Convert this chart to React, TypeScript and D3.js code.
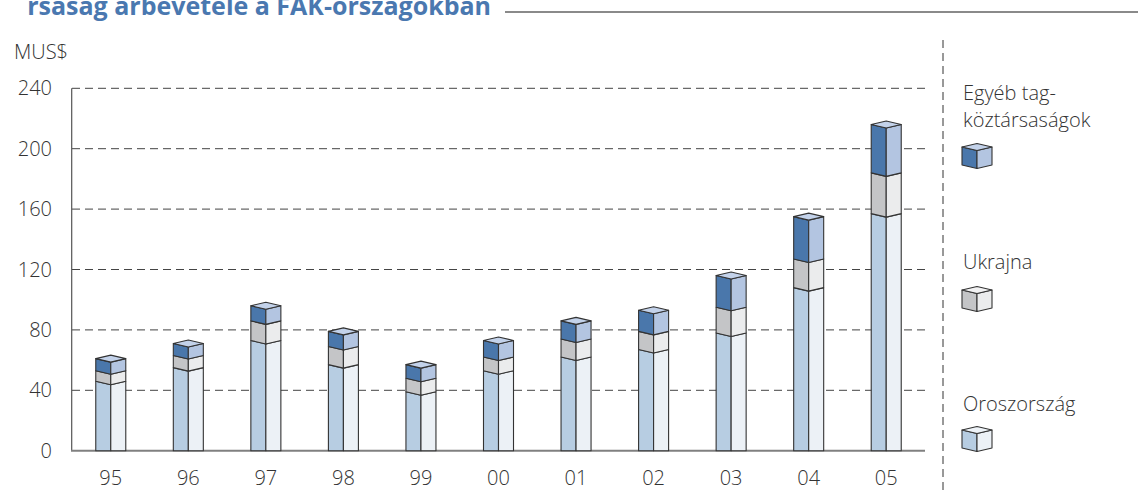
import * as d3 from "d3";

// years and stacked values (MUS$)
const years = ["95", "96", "97", "98", "99", "00", "01", "02", "03", "04", "05"];
const russia = [46, 55, 73, 57, 39, 53, 62, 67, 78, 108, 157];
const ukraine = [7, 8, 13, 12, 9, 9, 12, 12, 17, 19, 27];
const other = [8, 8, 10, 10, 9, 11, 12, 14, 21, 28, 32];
const yTicks = [0, 40, 80, 120, 160, 200, 240];

const seriesKeys = ["russia", "ukraine", "other"];
const faceColors: Record<string, [string, string, string]> = {
  // left face, right face, top
  russia: ["#b7cde2", "#ecf1f6", "#eef3f8"],
  ukraine: ["#c4c5c7", "#ebeced", "#f2f2f3"],
  other: ["#4a77ab", "#b3c5e1", "#c3d2ea"],
};

const W = 1138;
const H = 490;
const font = "'Open Sans', 'Noto Sans', sans-serif";
const D = 3.5; // depth of the chevron

const rows = years.map((yr, i) => ({
  year: yr,
  russia: russia[i],
  ukraine: ukraine[i],
  other: other[i],
}));

const x = d3
  .scaleBand<string>()
  .domain(years)
  .range([72, 925])
  .paddingInner(0.613)
  .paddingOuter(0.3065);

const y = d3.scaleLinear().domain([0, 240]).range([450.7, 88.3]);

const stacked = d3.stack<any>().keys(seriesKeys)(rows);

const pts = (p: number[][]) => p.map((q) => q.join(",")).join(" ");

function Prism({
  xl,
  w,
  top,
  bottom,
  colors,
  flatBottom,
  showTop,
}: {
  xl: number;
  w: number;
  top: number;
  bottom: number;
  colors: [string, string, string];
  flatBottom: boolean;
  showTop: boolean;
}) {
  const xc = xl + w / 2;
  const xr = xl + w;
  const bc = flatBottom ? bottom : bottom + D;
  return (
    <g stroke="#333" strokeWidth={1.1} strokeLinejoin="round">
      <polygon
        points={pts([[xl, top], [xc, top + D], [xc, bc], [xl, bottom]])}
        fill={colors[0]}
      />
      <polygon
        points={pts([[xc, top + D], [xr, top], [xr, bottom], [xc, bc]])}
        fill={colors[1]}
      />
      {showTop && (
        <polygon
          points={pts([[xl, top], [xc, top - D], [xr, top], [xc, top + D]])}
          fill={colors[2]}
        />
      )}
    </g>
  );
}

const legendItems = [
  { key: "other", lines: ["Egyéb tag-", "köztársaságok"], baseY: 99.5, cubeY: 147 },
  { key: "ukraine", lines: ["Ukrajna"], baseY: 269, cubeY: 290 },
  { key: "russia", lines: ["Oroszország"], baseY: 410.5, cubeY: 430 },
];

export default function App() {
  const bw = x.bandwidth();
  return (
    <svg
      width={W}
      height={H}
      style={{ position: "absolute", left: 0, top: 0, background: "#fff" }}
      fontFamily={font}
    >
      {/* title, cut at the top of the picture as in the source */}
      <text
        x={491}
        y={15}
        textAnchor="end"
        fontSize={25}
        fontWeight={700}
        fill="#4a78b0"
      >
        rsaság árbevétele a FÁK-országokban
      </text>
      <line x1={505} x2={W} y1={12} y2={12} stroke="#8a8a8a" strokeWidth={2} />

      <text x={14} y={59} fontSize={20} fontWeight={300} fill="#333">
        MUS$
      </text>

      {/* gridlines */}
      {yTicks
        .filter((t) => t > 0)
        .map((t) => (
          <line
            key={t}
            x1={72}
            x2={925}
            y1={y(t)}
            y2={y(t)}
            stroke="#444"
            strokeWidth={1}
            strokeDasharray="8,5"
          />
        ))}

      {/* y tick labels */}
      {yTicks.map((t) => (
        <text
          key={t}
          x={52}
          y={y(t) + 7}
          textAnchor="end"
          fontSize={20}
          fontWeight={300}
          fill="#333"
        >
          {t}
        </text>
      ))}

      {/* axes */}
      <line x1={71.7} x2={71.7} y1={y(240)} y2={y(0)} stroke="#555" strokeWidth={1.2} />
      <line x1={71} x2={925} y1={y(0)} y2={y(0)} stroke="#808080" strokeWidth={2} />

      {/* bars */}
      {years.map((yr, i) => (
        <g key={yr}>
          {stacked.map((s, si) => (
            <Prism
              key={s.key}
              xl={x(yr)!}
              w={bw}
              top={y(s[i][1])}
              bottom={y(s[i][0])}
              colors={faceColors[s.key]}
              flatBottom={si === 0}
              showTop={si === stacked.length - 1}
            />
          ))}
          <text
            x={x(yr)! + bw / 2}
            y={485}
            textAnchor="middle"
            fontSize={20}
            fontWeight={300}
            fill="#333"
          >
            {yr}
          </text>
        </g>
      ))}

      {/* divider */}
      <line x1={943} x2={943} y1={40} y2={H} stroke="#333" strokeWidth={1} strokeDasharray="8,5" />

      {/* legend */}
      {legendItems.map((it) => (
        <g key={it.key}>
          <text fontSize={20} fontWeight={300} fill="#333">
            {it.lines.map((l, li) => (
              <tspan key={li} x={963} y={it.baseY + li * 27}>
                {l}
              </tspan>
            ))}
          </text>
          <Prism
            xl={962}
            w={30}
            top={it.cubeY}
            bottom={it.cubeY + 18}
            colors={faceColors[it.key]}
            flatBottom={false}
            showTop={true}
          />
        </g>
      ))}
    </svg>
  );
}
